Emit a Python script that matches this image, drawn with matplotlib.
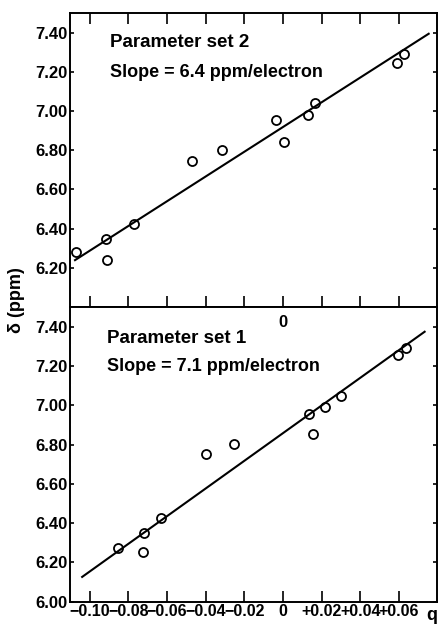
import numpy as np
import matplotlib
matplotlib.use('Agg')
import matplotlib.pyplot as plt

plt.rcParams['font.family'] = ['DejaVu Sans Condensed', 'Liberation Sans', 'DejaVu Sans']
plt.rcParams['font.weight'] = 'bold'

# datos
q_set2 = [-0.1072, -0.0917, -0.0909, -0.0773, -0.0470, -0.0314, -0.0038, 0.0006, 0.0132, 0.0168, 0.0591, 0.0627]
d_set2 = [6.278, 6.349, 6.242, 6.423, 6.746, 6.800, 6.954, 6.841, 6.978, 7.042, 7.247, 7.293]
fit2_q = [-0.1077, 0.0755]
fit2_d = [6.239, 7.394]

q_set1 = [-0.0855, -0.0720, -0.0723, -0.0630, -0.0396, -0.0252, 0.0134, 0.0155, 0.0217, 0.0300, 0.0595, 0.0638]
d_set1 = [6.275, 6.351, 6.253, 6.426, 6.752, 6.802, 6.957, 6.851, 6.991, 7.045, 7.257, 7.289]
fit1_q = [-0.1040, 0.0734]
fit1_d = [6.126, 7.374]

xticks = [-0.10, -0.08, -0.06, -0.04, -0.02, 0, 0.02, 0.04, 0.06]
xlabels = ['\u22120.10', '\u22120.08', '\u22120.06', '\u22120.04', '\u22120.02', '0', '+0.02', '+0.04', '+0.06']
yticks_top = [6.20, 6.40, 6.60, 6.80, 7.00, 7.20, 7.40]
yticks_bot = [6.00, 6.20, 6.40, 6.60, 6.80, 7.00, 7.20, 7.40]

fig = plt.figure(figsize=(4.38, 6.27), dpi=100)
ax2 = fig.add_axes([0.1598, 0.5104, 0.837, 0.4689])
ax1 = fig.add_axes([0.1598, 0.0404, 0.837, 0.4700])


def estilo(ax, yt):
    ax.set_xlim(-0.1103, 0.0796)
    ax.set_ylim(6.0, 7.5)
    ax.set_xticks(xticks)
    ax.set_yticks(yt)
    ax.set_yticklabels(['%.2f' % v for v in yt], fontsize=12, fontweight='bold')
    for s in ax.spines.values():
        s.set_linewidth(1.4)
    ax.tick_params(axis='y', direction='in', length=3, width=1.2, right=True, pad=2)
    ax.tick_params(axis='x', direction='in', length=8, width=1.2)


# panel superior: parameter set 2
ax2.plot(q_set2, d_set2, 'o', mfc='white', mec='black', ms=6.5, mew=1.3)
ax2.plot(fit2_q, fit2_d, '-', color='black', lw=1.5)
estilo(ax2, yticks_top)
ax2.tick_params(axis='x', top=True, labelbottom=False)
ax2.text(0.108, 0.885, 'Parameter set 2', transform=ax2.transAxes, fontsize=13.5, fontweight='bold')
ax2.text(0.108, 0.782, 'Slope = 6.4 ppm/electron', transform=ax2.transAxes, fontsize=13, fontweight='bold')

# panel inferior: parameter set 1
ax1.plot(q_set1, d_set1, 'o', mfc='white', mec='black', ms=6.5, mew=1.3)
ax1.plot(fit1_q, fit1_d, '-', color='black', lw=1.5)
estilo(ax1, yticks_bot)
ax1.set_xticklabels(xlabels, fontsize=11.5, fontweight='bold')
ax1.tick_params(axis='x', pad=2)
ax1.text(0.10, 0.877, 'Parameter set 1', transform=ax1.transAxes, fontsize=13.5, fontweight='bold')
ax1.text(0.10, 0.782, 'Slope = 7.1 ppm/electron', transform=ax1.transAxes, fontsize=13, fontweight='bold')
ax1.text(0, 7.42, '0', ha='center', va='center', fontsize=12, fontweight='bold')

fig.text(0.037, 0.5215, '\u03b4 (ppm)', rotation=90, ha='center', va='center', fontsize=13, fontweight='bold')
fig.text(0.973, 0.019, 'q', ha='left', va='center', fontsize=13, fontweight='bold')

fig.savefig('out.png', dpi=100)
